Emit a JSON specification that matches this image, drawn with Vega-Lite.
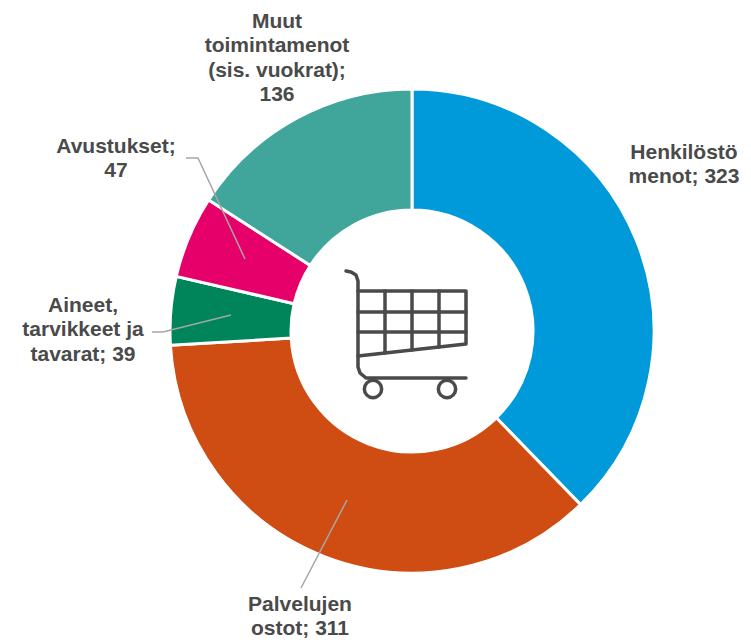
{
"$schema":"https://vega.github.io/schema/vega-lite/v6.json",
"width":751,"height":642,"padding":0,"autosize":{"type":"none"},
"background":"white",
"config":{"view":{"stroke":null}},
"datasets":{
"shares":[
{"name":"Henkilöstö menot","value":323,"rank":1},
{"name":"Palvelujen ostot","value":311,"rank":2},
{"name":"Aineet, tarvikkeet ja tavarat","value":39,"rank":3},
{"name":"Avustukset","value":47,"rank":4},
{"name":"Muut toimintamenot (sis. vuokrat)","value":136,"rank":5}
],
"labels":[
{"label":"Henkilöstö\nmenot; 323","px":684,"py":153},
{"label":"Palvelujen\nostot; 311","px":300,"py":605},
{"label":"Aineet,\ntarvikkeet ja\ntavarat; 39","px":83,"py":306},
{"label":"Avustukset;\n47","px":116,"py":147},
{"label":"Muut\ntoimintamenot\n(sis. vuokrat);\n136","px":277,"py":22}
],
"leaders":[
{"id":"a","seq":1,"px":186,"py":158},{"id":"a","seq":2,"px":198,"py":158},{"id":"a","seq":3,"px":245,"py":259},
{"id":"b","seq":1,"px":152,"py":332},{"id":"b","seq":2,"px":163,"py":332},{"id":"b","seq":3,"px":231,"py":315},
{"id":"c","seq":1,"px":347,"py":500},{"id":"c","seq":2,"px":301,"py":588}
],
"cart":[
{"id":"body","seq":1,"px":346,"py":271},{"id":"body","seq":2,"px":351,"py":272},{"id":"body","seq":3,"px":356,"py":275},{"id":"body","seq":4,"px":358,"py":281},{"id":"body","seq":5,"px":358,"py":367},{"id":"body","seq":6,"px":360,"py":373},{"id":"body","seq":7,"px":366,"py":378},{"id":"body","seq":8,"px":466,"py":378},
{"id":"frame","seq":1,"px":358,"py":291},{"id":"frame","seq":2,"px":466,"py":291},{"id":"frame","seq":3,"px":466,"py":344},{"id":"frame","seq":4,"px":358,"py":356},
{"id":"h1","seq":1,"px":358,"py":312},{"id":"h1","seq":2,"px":466,"py":312},
{"id":"h2","seq":1,"px":358,"py":332},{"id":"h2","seq":2,"px":466,"py":332},
{"id":"v1","seq":1,"px":385,"py":291},{"id":"v1","seq":2,"px":385,"py":353},
{"id":"v2","seq":1,"px":412,"py":291},{"id":"v2","seq":2,"px":412,"py":350},
{"id":"v3","seq":1,"px":439,"py":291},{"id":"v3","seq":2,"px":439,"py":347}
],
"wheels":[{"px":373,"py":389},{"px":447,"py":389}]
},
"layer":[
{"data":{"name":"shares"},
"mark":{"type":"arc","innerRadius":121,"outerRadius":242,"stroke":"white","strokeWidth":3},
"encoding":{
"x":{"datum":412,"type":"quantitative","scale":{"domain":[0,751],"nice":false,"zero":false},"axis":null},
"y":{"datum":331,"type":"quantitative","scale":{"domain":[642,0],"nice":false,"zero":false},"axis":null},
"theta":{"field":"value","type":"quantitative","stack":true},
"order":{"field":"rank","type":"quantitative"},
"color":{"field":"name","type":"nominal","legend":null,"scale":{
"domain":["Henkilöstö menot","Palvelujen ostot","Aineet, tarvikkeet ja tavarat","Avustukset","Muut toimintamenot (sis. vuokrat)"],
"range":["#009ADA","#CF4C12","#00845A","#E6006A","#40A59A"]}}
}},
{"data":{"name":"leaders"},
"mark":{"type":"line","color":"#A6A6A6","strokeWidth":1.5},
"encoding":{
"x":{"field":"px","type":"quantitative","axis":null},
"y":{"field":"py","type":"quantitative","axis":null},
"detail":{"field":"id"},
"order":{"field":"seq","type":"quantitative"}
}},
{"data":{"name":"cart"},
"mark":{"type":"line","color":"#4A4A4A","strokeWidth":3.5,"strokeCap":"round","strokeJoin":"round"},
"encoding":{
"x":{"field":"px","type":"quantitative","axis":null},
"y":{"field":"py","type":"quantitative","axis":null},
"detail":{"field":"id"},
"order":{"field":"seq","type":"quantitative"}
}},
{"data":{"name":"wheels"},
"mark":{"type":"point","shape":"circle","filled":false,"color":"#4A4A4A","strokeWidth":3.5,"size":300,"opacity":1},
"encoding":{
"x":{"field":"px","type":"quantitative","axis":null},
"y":{"field":"py","type":"quantitative","axis":null}
}},
{"data":{"name":"labels"},
"mark":{"type":"text","font":"Liberation Sans","fontWeight":"bold","fontSize":21,"color":"#4A4A4A","align":"center","baseline":"middle","lineBreak":"\n","lineHeight":24.3},
"encoding":{
"x":{"field":"px","type":"quantitative","axis":null},
"y":{"field":"py","type":"quantitative","axis":null},
"text":{"field":"label"}
}}
]
}
